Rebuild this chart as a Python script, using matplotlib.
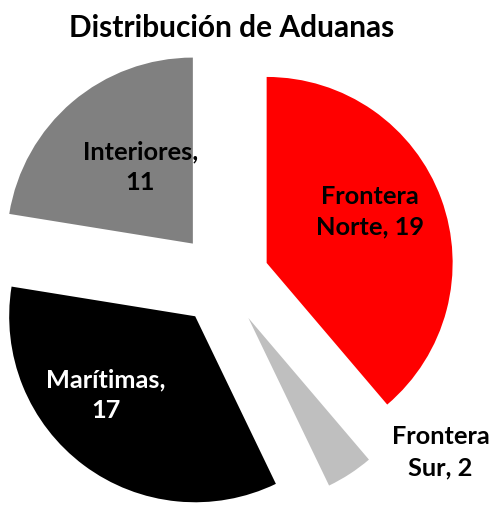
import numpy as np
import matplotlib.pyplot as plt

plt.rcParams['font.family'] = ['Lato', 'DejaVu Sans']

# datos
categorias = ['Frontera Norte', 'Frontera Sur', 'Marítimas', 'Interiores']
valores = [19, 2, 17, 11]
colores = ['#FF0000', '#BFBFBF', '#000000', '#808080']
color_texto = ['black', 'black', 'white', 'black']
etiquetas = ['Frontera\nNorte, 19', 'Frontera\nSur, 2', 'Marítimas,\n17', 'Interiores,\n11']

explode = [0.25] * len(valores)
# posicion de cada etiqueta: (distancia desde el centro de la cuña, giro en grados)
pos_etiqueta = [(0.62, 6), (1.26, 22), (0.64, -12), (0.50, -6)]

fig = plt.figure(figsize=(4.96, 5.07), dpi=100)
ax = fig.add_axes([0, 0, 1, 1])

wedges, _ = ax.pie(valores, colors=colores, startangle=90, counterclock=False,
                   explode=explode, radius=1)

for w, txt, col, (d, dt) in zip(wedges, etiquetas, color_texto, pos_etiqueta):
    mid = np.deg2rad((w.theta1 + w.theta2) / 2)
    cx, cy = w.center
    ang = mid + np.deg2rad(dt)
    ax.text(cx + d * np.cos(ang), cy + d * np.sin(ang), txt, ha='center', va='center',
            fontsize=18.3, fontweight='bold', color=col, linespacing=1.4)

ax.set_xlim(-223 / 186, 273 / 186)
ax.set_ylim((279 - 507) / 186, 279 / 186)
ax.set_aspect('auto')
ax.axis('off')

fig.text(0.466, 0.945, 'Distribución de Aduanas', ha='center', va='center',
         fontsize=21.5, fontweight='bold')

fig.savefig('out.png', dpi=100)
